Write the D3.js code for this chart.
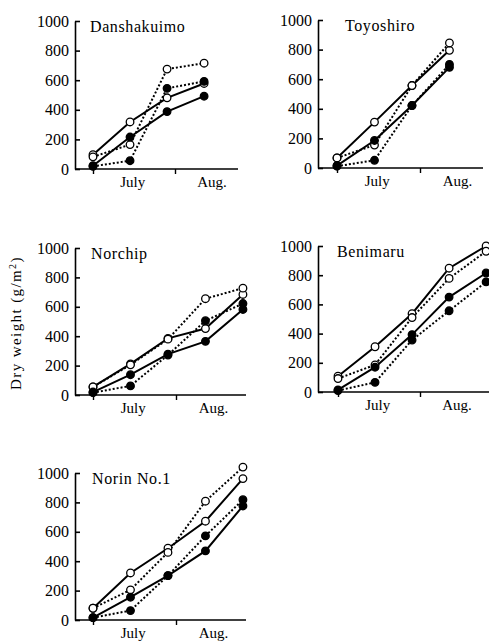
<!DOCTYPE html>
<html>
<head>
<meta charset="utf-8">
<script src="https://cdn.jsdelivr.net/npm/d3@7"></script>
<style>
  html, body { margin: 0; padding: 0; background: #fff; }
  svg { display: block; }
  svg text { font-family: "Liberation Serif", "Times New Roman", "DejaVu Serif", serif !important; fill: #000; }
</style>
</head>
<body>
<div id="chart"></div>
<script>
// Datos: variedades, dias de muestreo (dias desde el 1 de julio) y peso seco (g/m2)
const varieties = ["Danshakuimo", "Toyoshiro", "Norchip", "Benimaru", "Norin No.1"];
const sampleDays = [0, 14, 28, 42, 56];
const monthLabels = ["July", "Aug."];
const monthLabelDays = [15, 45];
const monthTickDays = [0, 31];
const yTicks = [0, 200, 400, 600, 800, 1000];

// cuatro series por variedad
const openSolid = [
  [97, 318, 481, 578],
  [68, 310, 557, 795],
  [55, 212, 385, 452, 684],
  [108, 310, 536, 848, 1000],
  [80, 320, 488, 672, 962]
];
const openDotted = [
  [82, 165, 675, 715],
  [68, 155, 557, 845],
  [55, 205, 380, 655, 727],
  [92, 186, 510, 778, 964],
  [80, 205, 460, 808, 1040]
];
const filledSolid = [
  [22, 216, 388, 492],
  [16, 186, 422, 680],
  [20, 138, 278, 365, 582],
  [14, 170, 393, 650, 815],
  [16, 155, 302, 470, 776]
];
const filledDotted = [
  [18, 56, 545, 592],
  [12, 52, 422, 700],
  [16, 62, 272, 505, 622],
  [10, 66, 356, 556, 754],
  [16, 64, 302, 572, 818]
];

// Posicion de cada panel en la pagina
const panels = [
  {x0: 75,  t0: 93,  t1: 175, xEnd: 238, y0: 169, y1: 21,  titleDx: 15},
  {x0: 318, t0: 337, t1: 420, xEnd: 483, y0: 168, y1: 20,  titleDx: 27},
  {x0: 75,  t0: 93,  t1: 176, xEnd: 246, y0: 395, y1: 248, titleDx: 16},
  {x0: 318, t0: 338, t1: 420, xEnd: 489, y0: 392, y1: 246, titleDx: 19},
  {x0: 75,  t0: 93,  t1: 176, xEnd: 246, y0: 620, y1: 473, titleDx: 17}
];

const svg = d3.select("#chart").append("svg")
  .attr("width", 489)
  .attr("height", 641);

varieties.forEach((name, k) => {
  const p = panels[k];
  const g = svg.append("g");

  const x = d3.scaleLinear().domain([monthTickDays[0], monthTickDays[1]]).range([p.t0, p.t1]);
  const y = d3.scaleLinear().domain([0, 1000]).range([p.y0, p.y1]);

  // eje Y con marcas hacia dentro
  const yAxis = g.append("g")
    .attr("transform", `translate(${p.x0},0)`)
    .call(d3.axisLeft(y).tickValues(yTicks).tickFormat(d3.format("d"))
      .tickSize(-5).tickSizeOuter(0).tickPadding(6));
  yAxis.attr("font-family", null);
  yAxis.selectAll("path, line").attr("stroke", "#000").attr("stroke-width", 1.6);
  yAxis.selectAll("text").style("font-size", "16px");

  // eje X: linea base y marcas de los meses
  g.append("line")
    .attr("x1", p.x0).attr("x2", p.xEnd)
    .attr("y1", p.y0).attr("y2", p.y0)
    .attr("stroke", "#000").attr("stroke-width", 1.6);
  const xAxis = g.append("g")
    .attr("transform", `translate(0,${p.y0})`)
    .call(d3.axisBottom(x).tickValues(monthTickDays).tickFormat("").tickSize(5));
  xAxis.select(".domain").remove();
  xAxis.selectAll("line").attr("stroke", "#000").attr("stroke-width", 1.4);

  monthLabels.forEach((m, i) => {
    g.append("text")
      .attr("x", x(monthLabelDays[i]))
      .attr("y", p.y0 + 18)
      .attr("text-anchor", "middle")
      .style("font-size", "15px")
      .text(m);
  });

  // titulo de la variedad
  g.append("text")
    .attr("x", p.x0 + p.titleDx)
    .attr("y", p.y1 + 11)
    .style("font-size", "16px")
    .style("letter-spacing", "0.6px")
    .text(name);

  const line = d3.line()
    .x((d, i) => x(sampleDays[i]))
    .y(d => y(d));

  const series = [
    {vals: openSolid[k], dash: null, open: true},
    {vals: openDotted[k], dash: "2,2", open: true},
    {vals: filledSolid[k], dash: null, open: false},
    {vals: filledDotted[k], dash: "2,2", open: false}
  ];

  series.forEach(s => {
    g.append("path")
      .attr("d", line(s.vals))
      .attr("fill", "none")
      .attr("stroke", "#000")
      .attr("stroke-width", 2)
      .attr("stroke-dasharray", s.dash);
  });

  series.forEach(s => {
    g.selectAll(null)
      .data(s.vals)
      .enter()
      .append("circle")
      .attr("cx", (d, i) => x(sampleDays[i]))
      .attr("cy", d => y(d))
      .attr("r", 3.8)
      .attr("fill", s.open ? "#fff" : "#000")
      .attr("stroke", "#000")
      .attr("stroke-width", 1.3);
  });
});

// titulo del eje Y
const yLabel = svg.append("text")
  .attr("transform", "translate(21,323) rotate(-90)")
  .attr("text-anchor", "middle")
  .style("font-size", "15px")
  .style("letter-spacing", "1.4px");
yLabel.append("tspan").text("Dry weight (g/m");
yLabel.append("tspan").attr("dy", -5).style("font-size", "10px").text("2");
yLabel.append("tspan").attr("dy", 5).text(")");
</script>
</body>
</html>
